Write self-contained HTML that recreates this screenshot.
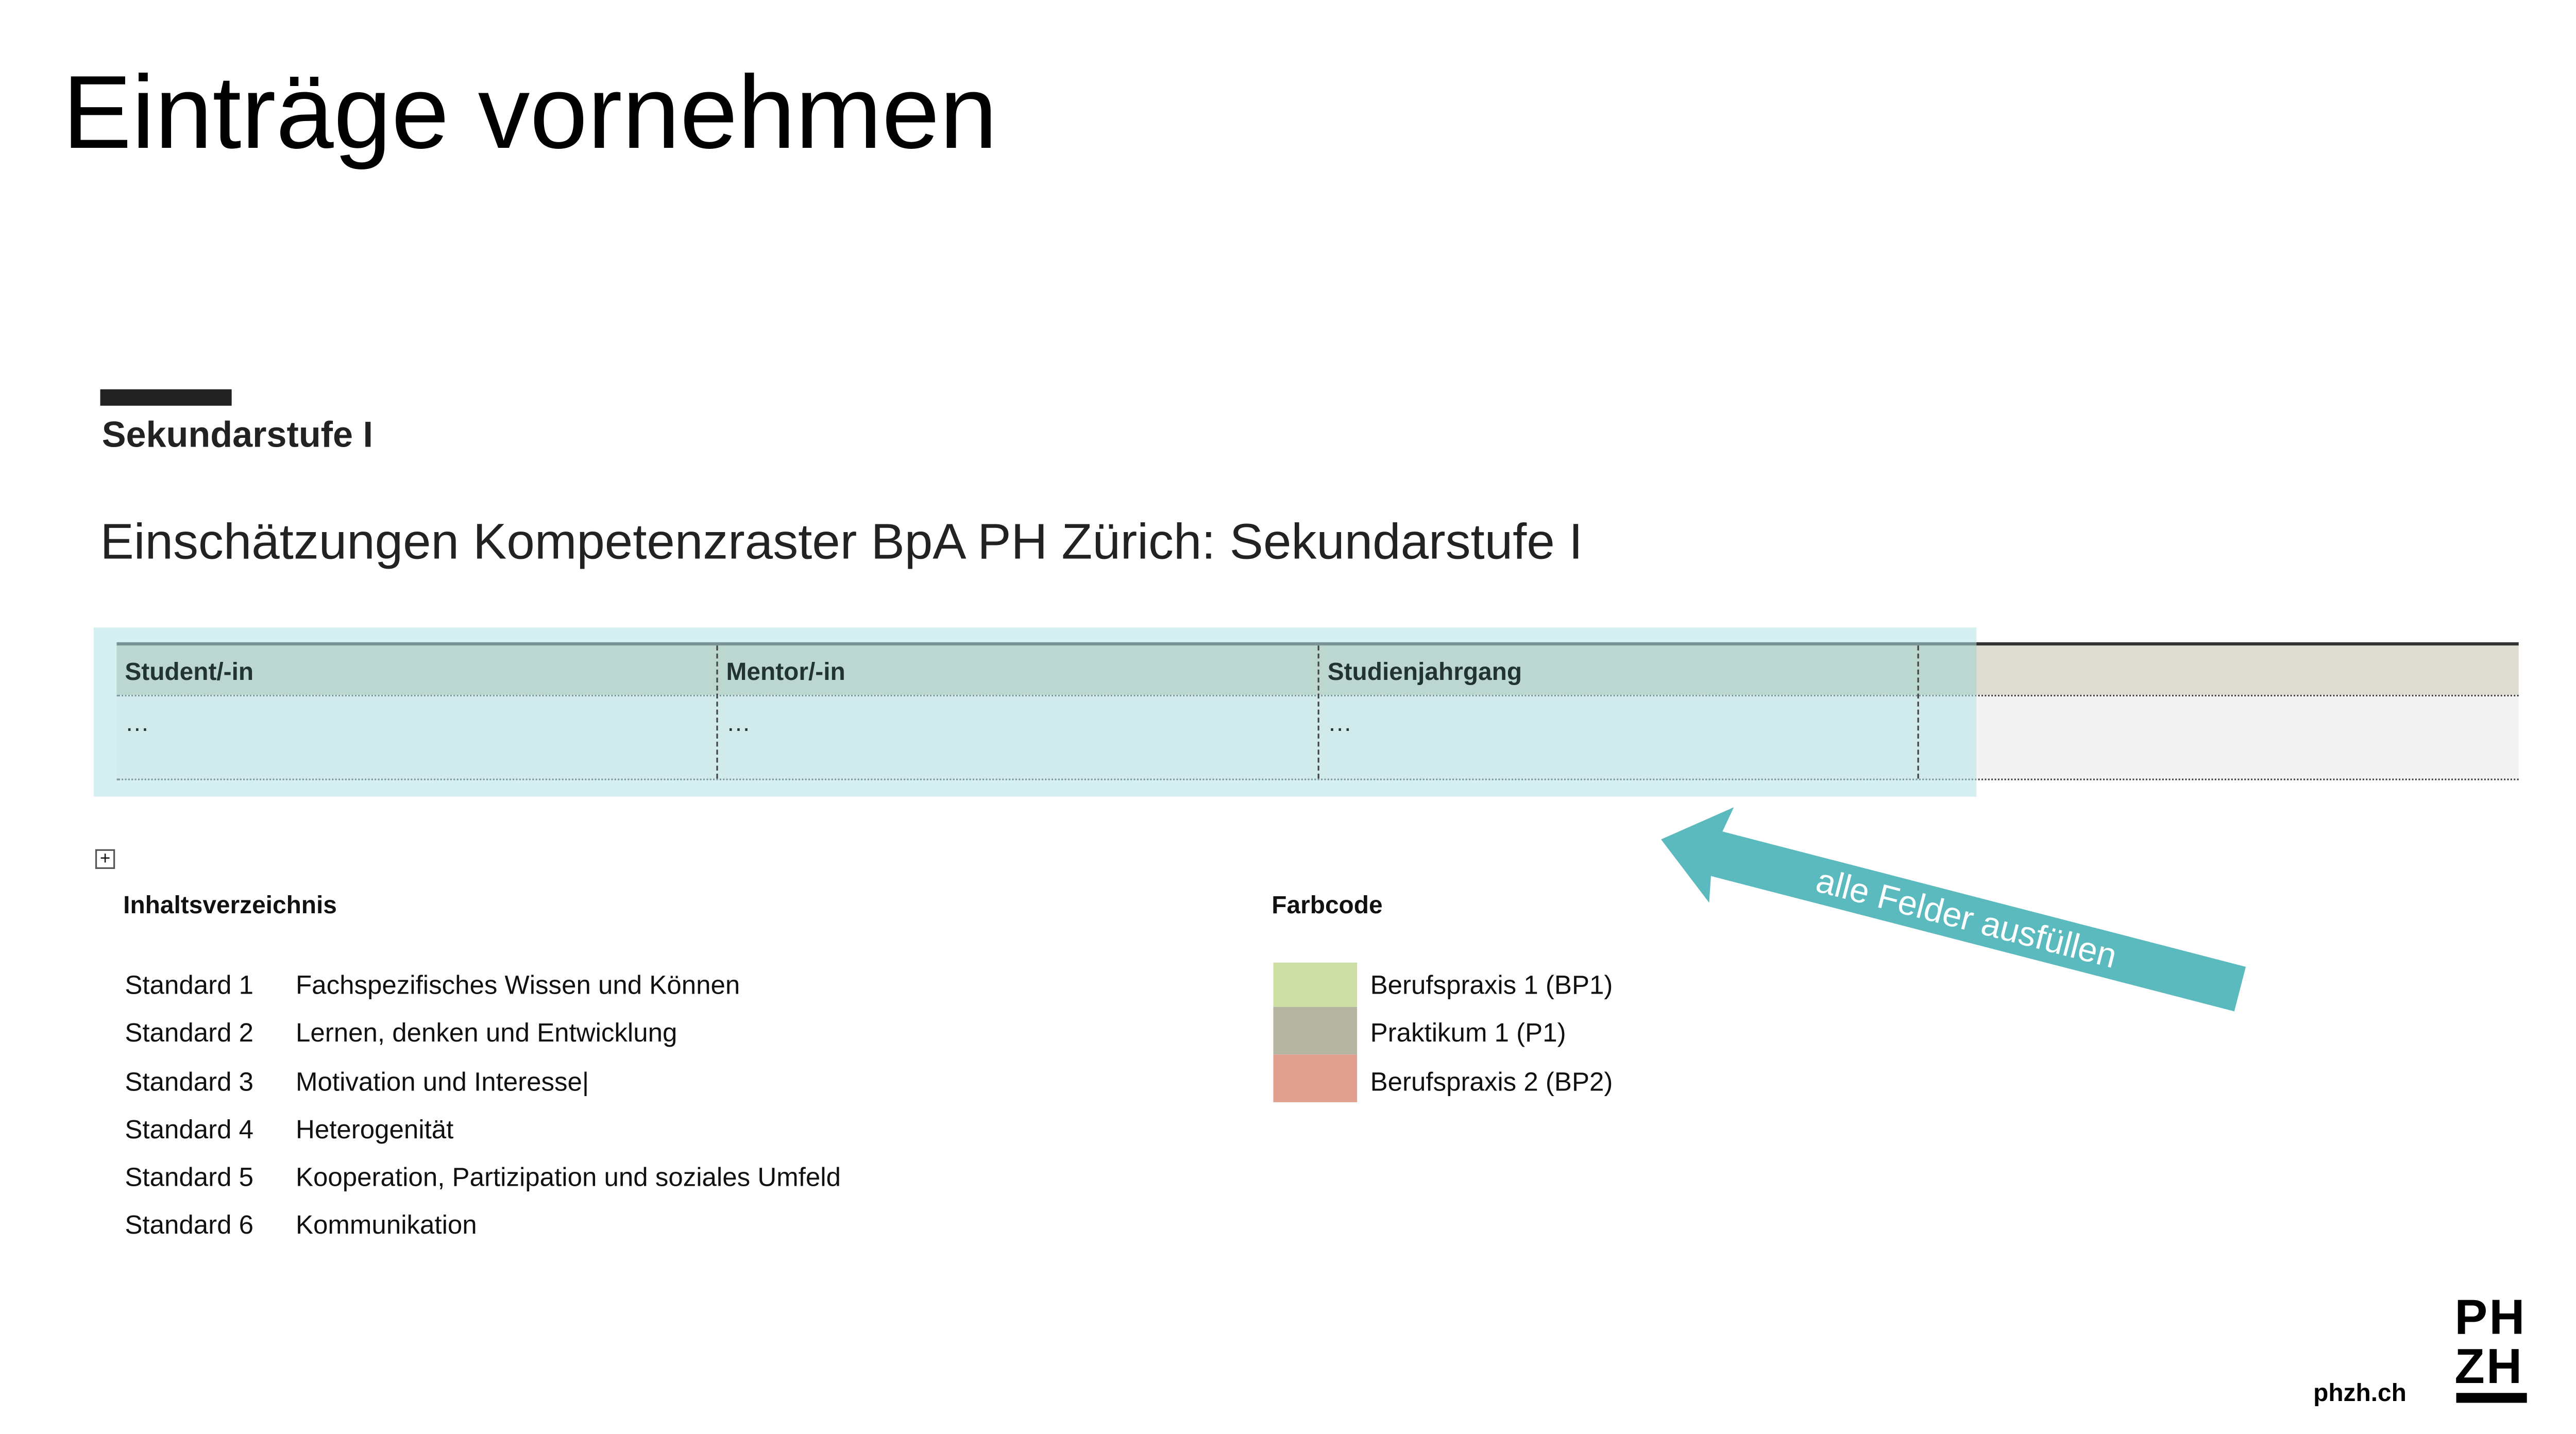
<!DOCTYPE html>
<html><head><meta charset="utf-8"><style>
html,body{margin:0;padding:0;background:#fff;}
body{width:5026px;height:2782px;overflow:hidden;position:relative;}
#w{position:absolute;left:0;top:0;width:1576px;height:873px;transform:scale(3.189);transform-origin:0 0;font-family:"Liberation Sans",sans-serif;color:#111;}
.a{position:absolute;white-space:nowrap;}
</style></head><body><div id="w">
<div class="a" style="left:38px;top:30px;font-size:63.2px;line-height:78px;color:#000;">Einträge vornehmen</div>
<div class="a" style="left:61px;top:237px;width:80px;height:10px;background:#222;"></div>
<div class="a" style="left:62px;top:252px;font-size:22px;font-weight:bold;color:#222;">Sekundarstufe I</div>
<div class="a" style="left:61px;top:312px;font-size:30.7px;color:#222;">Einschätzungen Kompetenzraster BpA PH Zürich: Sekundarstufe I</div>

<div class="a" style="left:71px;top:391px;width:1462px;height:2px;background:#333;"></div>
<div class="a" style="left:71px;top:393px;width:1462px;height:30px;background:#dedcd0;"></div>
<div class="a" style="left:71px;top:423px;width:1462px;border-top:1px dotted #444;"></div>
<div class="a" style="left:71px;top:424px;width:1462px;height:50px;background:#f3f3f3;"></div>
<div class="a" style="left:71px;top:474px;width:1462px;border-top:1px dotted #444;"></div>
<div class="a" style="left:57px;top:382px;width:1146px;height:103px;background:rgba(180,226,230,0.55);"></div>
<div class="a" style="left:71px;top:393px;width:1132px;height:30px;background:rgba(150,190,170,0.25);"></div>
<div class="a" style="left:436px;top:393px;height:81px;border-left:1px dashed #444;"></div>
<div class="a" style="left:802px;top:393px;height:81px;border-left:1px dashed #444;"></div>
<div class="a" style="left:1167px;top:393px;height:81px;border-left:1px dashed #444;"></div>
<div class="a" style="left:76px;top:401px;font-size:15px;font-weight:bold;color:#233;">Student/-in</div>
<div class="a" style="left:442px;top:401px;font-size:15px;font-weight:bold;color:#233;">Mentor/-in</div>
<div class="a" style="left:808px;top:401px;font-size:15px;font-weight:bold;color:#233;">Studienjahrgang</div>
<div class="a" style="left:76px;top:432px;font-size:15px;color:#233;">…</div>
<div class="a" style="left:442px;top:432px;font-size:15px;color:#233;">…</div>
<div class="a" style="left:808px;top:432px;font-size:15px;color:#233;">…</div>

<div class="a" style="left:58px;top:517px;width:10px;height:10px;border:1px solid #555;font-size:11px;line-height:10px;text-align:center;">+</div>
<div class="a" style="left:75px;top:543px;font-size:15px;font-weight:bold;">Inhaltsverzeichnis</div>
<div class="a" style="left:774px;top:543px;font-size:15px;font-weight:bold;">Farbcode</div>

<div class="a" style="left:76px;top:586px;font-size:16px;line-height:29.3px;">Standard 1<br>Standard 2<br>Standard 3<br>Standard 4<br>Standard 5<br>Standard 6</div>
<div class="a" style="left:180px;top:586px;font-size:16px;line-height:29.3px;">Fachspezifisches Wissen und Können<br>Lernen, denken und Entwicklung<br>Motivation und Interesse|<br>Heterogenität<br>Kooperation, Partizipation und soziales Umfeld<br>Kommunikation</div>

<div class="a" style="left:775px;top:586px;width:51px;height:27px;background:#cddea4;"></div>
<div class="a" style="left:775px;top:613px;width:51px;height:29px;background:#b5b5a2;"></div>
<div class="a" style="left:775px;top:642px;width:51px;height:29px;background:#e19f8e;"></div>
<div class="a" style="left:834px;top:586px;font-size:16px;line-height:29.3px;">Berufspraxis 1 (BP1)<br>Praktikum 1 (P1)<br>Berufspraxis 2 (BP2)</div>

<svg class="a" style="left:0;top:0;" width="1576" height="873">
<g transform="translate(1011,511) rotate(14.5)">
<polygon points="0,0 38,-30 35,-14 364,-14 364,14 35,14 38,30" fill="#5bbabd"/>
<text x="192" y="7" font-family="Liberation Sans, sans-serif" font-size="21" fill="#fff" text-anchor="middle">alle Felder ausfüllen</text>
</g>
</svg>

<div class="a" style="left:1408px;top:840px;font-size:15px;font-weight:bold;color:#000;">phzh.ch</div>
<div class="a" style="left:1494px;top:788px;font-size:30px;line-height:30px;font-weight:bold;color:#000;letter-spacing:1px;">PH<br>ZH</div>
<div class="a" style="left:1495px;top:848px;width:43px;height:6px;background:#000;"></div>
</div></body></html>
